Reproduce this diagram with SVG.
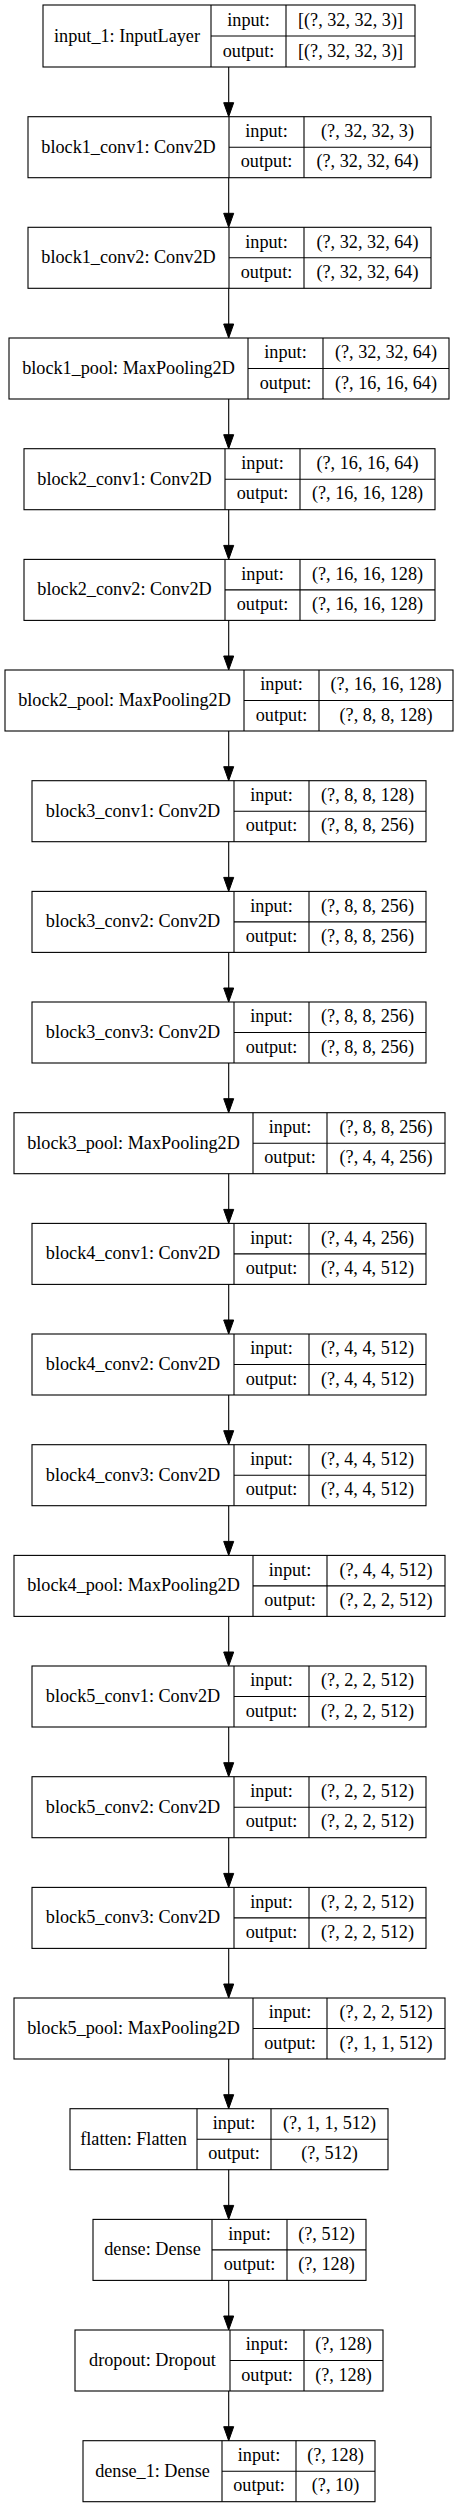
<svg xmlns="http://www.w3.org/2000/svg" width="459" height="2508" viewBox="0 0 459 2508">
<style>
rect{fill:#fff;stroke:#000;stroke-width:1.1}
line.d{stroke:#000;stroke-width:1.1}
text{font-family:"Liberation Serif","Times New Roman",serif;font-size:18.2px;fill:#000;text-anchor:middle}
.e line{stroke:#000;stroke-width:1.1}
.e polygon{fill:#000;stroke:#000;stroke-width:1}
</style>
<rect x="0" y="0" width="459" height="2508" style="fill:#fff;stroke:none"/>
<g id="input_1" transform="translate(0,5)">
<rect x="43" y="0" width="372" height="62"/><line class="d" x1="211" y1="0" x2="211" y2="62"/><line class="d" x1="286" y1="0" x2="286" y2="62"/><line class="d" x1="211" y1="31" x2="415" y2="31"/>
<text x="127" y="36.5">input_1: InputLayer</text><text x="248.5" y="20.5">input:</text><text x="350.5" y="20.5">[(?, 32, 32, 3)]</text><text x="248.5" y="51.5">output:</text><text x="350.5" y="51.5">[(?, 32, 32, 3)]</text>
</g>
<g id="block1_conv1" transform="translate(0,116.7)">
<rect x="28" y="0" width="403" height="61"/><line class="d" x1="229" y1="0" x2="229" y2="61"/><line class="d" x1="304" y1="0" x2="304" y2="61"/><line class="d" x1="229" y1="30.5" x2="431" y2="30.5"/>
<text x="128.5" y="36">block1_conv1: Conv2D</text><text x="266.5" y="20.3">input:</text><text x="367.5" y="20.3">(?, 32, 32, 3)</text><text x="266.5" y="50.8">output:</text><text x="367.5" y="50.8">(?, 32, 32, 64)</text>
</g>
<g id="block1_conv2" transform="translate(0,227.3)">
<rect x="28" y="0" width="403" height="61"/><line class="d" x1="229" y1="0" x2="229" y2="61"/><line class="d" x1="304" y1="0" x2="304" y2="61"/><line class="d" x1="229" y1="30.5" x2="431" y2="30.5"/>
<text x="128.5" y="36">block1_conv2: Conv2D</text><text x="266.5" y="20.3">input:</text><text x="367.5" y="20.3">(?, 32, 32, 64)</text><text x="266.5" y="50.8">output:</text><text x="367.5" y="50.8">(?, 32, 32, 64)</text>
</g>
<g id="block1_pool" transform="translate(0,338)">
<rect x="9" y="0" width="440" height="61"/><line class="d" x1="248" y1="0" x2="248" y2="61"/><line class="d" x1="323" y1="0" x2="323" y2="61"/><line class="d" x1="248" y1="30.5" x2="449" y2="30.5"/>
<text x="128.5" y="36">block1_pool: MaxPooling2D</text><text x="285.5" y="20.3">input:</text><text x="386" y="20.3">(?, 32, 32, 64)</text><text x="285.5" y="50.8">output:</text><text x="386" y="50.8">(?, 16, 16, 64)</text>
</g>
<g id="block2_conv1" transform="translate(0,448.7)">
<rect x="24" y="0" width="411" height="61"/><line class="d" x1="225" y1="0" x2="225" y2="61"/><line class="d" x1="300" y1="0" x2="300" y2="61"/><line class="d" x1="225" y1="30.5" x2="435" y2="30.5"/>
<text x="124.5" y="36">block2_conv1: Conv2D</text><text x="262.5" y="20.3">input:</text><text x="367.5" y="20.3">(?, 16, 16, 64)</text><text x="262.5" y="50.8">output:</text><text x="367.5" y="50.8">(?, 16, 16, 128)</text>
</g>
<g id="block2_conv2" transform="translate(0,559.4)">
<rect x="24" y="0" width="411" height="61"/><line class="d" x1="225" y1="0" x2="225" y2="61"/><line class="d" x1="300" y1="0" x2="300" y2="61"/><line class="d" x1="225" y1="30.5" x2="435" y2="30.5"/>
<text x="124.5" y="36">block2_conv2: Conv2D</text><text x="262.5" y="20.3">input:</text><text x="367.5" y="20.3">(?, 16, 16, 128)</text><text x="262.5" y="50.8">output:</text><text x="367.5" y="50.8">(?, 16, 16, 128)</text>
</g>
<g id="block2_pool" transform="translate(0,670)">
<rect x="5" y="0" width="448" height="61"/><line class="d" x1="244" y1="0" x2="244" y2="61"/><line class="d" x1="319" y1="0" x2="319" y2="61"/><line class="d" x1="244" y1="30.5" x2="453" y2="30.5"/>
<text x="124.5" y="36">block2_pool: MaxPooling2D</text><text x="281.5" y="20.3">input:</text><text x="386" y="20.3">(?, 16, 16, 128)</text><text x="281.5" y="50.8">output:</text><text x="386" y="50.8">(?, 8, 8, 128)</text>
</g>
<g id="block3_conv1" transform="translate(0,780.7)">
<rect x="32" y="0" width="394" height="61"/><line class="d" x1="234" y1="0" x2="234" y2="61"/><line class="d" x1="309" y1="0" x2="309" y2="61"/><line class="d" x1="234" y1="30.5" x2="426" y2="30.5"/>
<text x="133" y="36">block3_conv1: Conv2D</text><text x="271.5" y="20.3">input:</text><text x="367.5" y="20.3">(?, 8, 8, 128)</text><text x="271.5" y="50.8">output:</text><text x="367.5" y="50.8">(?, 8, 8, 256)</text>
</g>
<g id="block3_conv2" transform="translate(0,891.4)">
<rect x="32" y="0" width="394" height="61"/><line class="d" x1="234" y1="0" x2="234" y2="61"/><line class="d" x1="309" y1="0" x2="309" y2="61"/><line class="d" x1="234" y1="30.5" x2="426" y2="30.5"/>
<text x="133" y="36">block3_conv2: Conv2D</text><text x="271.5" y="20.3">input:</text><text x="367.5" y="20.3">(?, 8, 8, 256)</text><text x="271.5" y="50.8">output:</text><text x="367.5" y="50.8">(?, 8, 8, 256)</text>
</g>
<g id="block3_conv3" transform="translate(0,1002)">
<rect x="32" y="0" width="394" height="61"/><line class="d" x1="234" y1="0" x2="234" y2="61"/><line class="d" x1="309" y1="0" x2="309" y2="61"/><line class="d" x1="234" y1="30.5" x2="426" y2="30.5"/>
<text x="133" y="36">block3_conv3: Conv2D</text><text x="271.5" y="20.3">input:</text><text x="367.5" y="20.3">(?, 8, 8, 256)</text><text x="271.5" y="50.8">output:</text><text x="367.5" y="50.8">(?, 8, 8, 256)</text>
</g>
<g id="block3_pool" transform="translate(0,1112.7)">
<rect x="14" y="0" width="431" height="61"/><line class="d" x1="253" y1="0" x2="253" y2="61"/><line class="d" x1="327" y1="0" x2="327" y2="61"/><line class="d" x1="253" y1="30.5" x2="445" y2="30.5"/>
<text x="133.5" y="36">block3_pool: MaxPooling2D</text><text x="290" y="20.3">input:</text><text x="386" y="20.3">(?, 8, 8, 256)</text><text x="290" y="50.8">output:</text><text x="386" y="50.8">(?, 4, 4, 256)</text>
</g>
<g id="block4_conv1" transform="translate(0,1223.4)">
<rect x="32" y="0" width="394" height="61"/><line class="d" x1="234" y1="0" x2="234" y2="61"/><line class="d" x1="309" y1="0" x2="309" y2="61"/><line class="d" x1="234" y1="30.5" x2="426" y2="30.5"/>
<text x="133" y="36">block4_conv1: Conv2D</text><text x="271.5" y="20.3">input:</text><text x="367.5" y="20.3">(?, 4, 4, 256)</text><text x="271.5" y="50.8">output:</text><text x="367.5" y="50.8">(?, 4, 4, 512)</text>
</g>
<g id="block4_conv2" transform="translate(0,1334)">
<rect x="32" y="0" width="394" height="61"/><line class="d" x1="234" y1="0" x2="234" y2="61"/><line class="d" x1="309" y1="0" x2="309" y2="61"/><line class="d" x1="234" y1="30.5" x2="426" y2="30.5"/>
<text x="133" y="36">block4_conv2: Conv2D</text><text x="271.5" y="20.3">input:</text><text x="367.5" y="20.3">(?, 4, 4, 512)</text><text x="271.5" y="50.8">output:</text><text x="367.5" y="50.8">(?, 4, 4, 512)</text>
</g>
<g id="block4_conv3" transform="translate(0,1444.7)">
<rect x="32" y="0" width="394" height="61"/><line class="d" x1="234" y1="0" x2="234" y2="61"/><line class="d" x1="309" y1="0" x2="309" y2="61"/><line class="d" x1="234" y1="30.5" x2="426" y2="30.5"/>
<text x="133" y="36">block4_conv3: Conv2D</text><text x="271.5" y="20.3">input:</text><text x="367.5" y="20.3">(?, 4, 4, 512)</text><text x="271.5" y="50.8">output:</text><text x="367.5" y="50.8">(?, 4, 4, 512)</text>
</g>
<g id="block4_pool" transform="translate(0,1555.4)">
<rect x="14" y="0" width="431" height="61"/><line class="d" x1="253" y1="0" x2="253" y2="61"/><line class="d" x1="327" y1="0" x2="327" y2="61"/><line class="d" x1="253" y1="30.5" x2="445" y2="30.5"/>
<text x="133.5" y="36">block4_pool: MaxPooling2D</text><text x="290" y="20.3">input:</text><text x="386" y="20.3">(?, 4, 4, 512)</text><text x="290" y="50.8">output:</text><text x="386" y="50.8">(?, 2, 2, 512)</text>
</g>
<g id="block5_conv1" transform="translate(0,1666)">
<rect x="32" y="0" width="394" height="61"/><line class="d" x1="234" y1="0" x2="234" y2="61"/><line class="d" x1="309" y1="0" x2="309" y2="61"/><line class="d" x1="234" y1="30.5" x2="426" y2="30.5"/>
<text x="133" y="36">block5_conv1: Conv2D</text><text x="271.5" y="20.3">input:</text><text x="367.5" y="20.3">(?, 2, 2, 512)</text><text x="271.5" y="50.8">output:</text><text x="367.5" y="50.8">(?, 2, 2, 512)</text>
</g>
<g id="block5_conv2" transform="translate(0,1776.7)">
<rect x="32" y="0" width="394" height="61"/><line class="d" x1="234" y1="0" x2="234" y2="61"/><line class="d" x1="309" y1="0" x2="309" y2="61"/><line class="d" x1="234" y1="30.5" x2="426" y2="30.5"/>
<text x="133" y="36">block5_conv2: Conv2D</text><text x="271.5" y="20.3">input:</text><text x="367.5" y="20.3">(?, 2, 2, 512)</text><text x="271.5" y="50.8">output:</text><text x="367.5" y="50.8">(?, 2, 2, 512)</text>
</g>
<g id="block5_conv3" transform="translate(0,1887.4)">
<rect x="32" y="0" width="394" height="61"/><line class="d" x1="234" y1="0" x2="234" y2="61"/><line class="d" x1="309" y1="0" x2="309" y2="61"/><line class="d" x1="234" y1="30.5" x2="426" y2="30.5"/>
<text x="133" y="36">block5_conv3: Conv2D</text><text x="271.5" y="20.3">input:</text><text x="367.5" y="20.3">(?, 2, 2, 512)</text><text x="271.5" y="50.8">output:</text><text x="367.5" y="50.8">(?, 2, 2, 512)</text>
</g>
<g id="block5_pool" transform="translate(0,1998)">
<rect x="14" y="0" width="431" height="61"/><line class="d" x1="253" y1="0" x2="253" y2="61"/><line class="d" x1="327" y1="0" x2="327" y2="61"/><line class="d" x1="253" y1="30.5" x2="445" y2="30.5"/>
<text x="133.5" y="36">block5_pool: MaxPooling2D</text><text x="290" y="20.3">input:</text><text x="386" y="20.3">(?, 2, 2, 512)</text><text x="290" y="50.8">output:</text><text x="386" y="50.8">(?, 1, 1, 512)</text>
</g>
<g id="flatten" transform="translate(0,2108.7)">
<rect x="70" y="0" width="318" height="61"/><line class="d" x1="197" y1="0" x2="197" y2="61"/><line class="d" x1="271" y1="0" x2="271" y2="61"/><line class="d" x1="197" y1="30.5" x2="388" y2="30.5"/>
<text x="133.5" y="36">flatten: Flatten</text><text x="234" y="20.3">input:</text><text x="329.5" y="20.3">(?, 1, 1, 512)</text><text x="234" y="50.8">output:</text><text x="329.5" y="50.8">(?, 512)</text>
</g>
<g id="dense" transform="translate(0,2219.4)">
<rect x="93" y="0" width="273" height="61"/><line class="d" x1="212" y1="0" x2="212" y2="61"/><line class="d" x1="287" y1="0" x2="287" y2="61"/><line class="d" x1="212" y1="30.5" x2="366" y2="30.5"/>
<text x="152.5" y="36">dense: Dense</text><text x="249.5" y="20.3">input:</text><text x="326.5" y="20.3">(?, 512)</text><text x="249.5" y="50.8">output:</text><text x="326.5" y="50.8">(?, 128)</text>
</g>
<g id="dropout" transform="translate(0,2330)">
<rect x="75" y="0" width="308" height="61"/><line class="d" x1="230" y1="0" x2="230" y2="61"/><line class="d" x1="304" y1="0" x2="304" y2="61"/><line class="d" x1="230" y1="30.5" x2="383" y2="30.5"/>
<text x="152.5" y="36">dropout: Dropout</text><text x="267" y="20.3">input:</text><text x="343.5" y="20.3">(?, 128)</text><text x="267" y="50.8">output:</text><text x="343.5" y="50.8">(?, 128)</text>
</g>
<g id="dense_1" transform="translate(0,2440.7)">
<rect x="83" y="0" width="292" height="61"/><line class="d" x1="222" y1="0" x2="222" y2="61"/><line class="d" x1="296" y1="0" x2="296" y2="61"/><line class="d" x1="222" y1="30.5" x2="375" y2="30.5"/>
<text x="152.5" y="36">dense_1: Dense</text><text x="259" y="20.3">input:</text><text x="335.5" y="20.3">(?, 128)</text><text x="259" y="50.8">output:</text><text x="335.5" y="50.8">(?, 10)</text>
</g>
<g id="edges" class="e">
<line x1="228.7" y1="67" x2="228.7" y2="102.7"/><polygon points="223.7,102.7 233.7,102.7 228.7,116.7"/>
<line x1="228.7" y1="177.7" x2="228.7" y2="213.3"/><polygon points="223.7,213.3 233.7,213.3 228.7,227.3"/>
<line x1="228.7" y1="288.3" x2="228.7" y2="324"/><polygon points="223.7,324 233.7,324 228.7,338"/>
<line x1="228.7" y1="399" x2="228.7" y2="434.7"/><polygon points="223.7,434.7 233.7,434.7 228.7,448.7"/>
<line x1="228.7" y1="509.7" x2="228.7" y2="545.4"/><polygon points="223.7,545.4 233.7,545.4 228.7,559.4"/>
<line x1="228.7" y1="620.4" x2="228.7" y2="656"/><polygon points="223.7,656 233.7,656 228.7,670"/>
<line x1="228.7" y1="731" x2="228.7" y2="766.7"/><polygon points="223.7,766.7 233.7,766.7 228.7,780.7"/>
<line x1="228.7" y1="841.7" x2="228.7" y2="877.4"/><polygon points="223.7,877.4 233.7,877.4 228.7,891.4"/>
<line x1="228.7" y1="952.4" x2="228.7" y2="988"/><polygon points="223.7,988 233.7,988 228.7,1002"/>
<line x1="228.7" y1="1063" x2="228.7" y2="1098.7"/><polygon points="223.7,1098.7 233.7,1098.7 228.7,1112.7"/>
<line x1="228.7" y1="1173.7" x2="228.7" y2="1209.4"/><polygon points="223.7,1209.4 233.7,1209.4 228.7,1223.4"/>
<line x1="228.7" y1="1284.4" x2="228.7" y2="1320"/><polygon points="223.7,1320 233.7,1320 228.7,1334"/>
<line x1="228.7" y1="1395" x2="228.7" y2="1430.7"/><polygon points="223.7,1430.7 233.7,1430.7 228.7,1444.7"/>
<line x1="228.7" y1="1505.7" x2="228.7" y2="1541.4"/><polygon points="223.7,1541.4 233.7,1541.4 228.7,1555.4"/>
<line x1="228.7" y1="1616.4" x2="228.7" y2="1652"/><polygon points="223.7,1652 233.7,1652 228.7,1666"/>
<line x1="228.7" y1="1727" x2="228.7" y2="1762.7"/><polygon points="223.7,1762.7 233.7,1762.7 228.7,1776.7"/>
<line x1="228.7" y1="1837.7" x2="228.7" y2="1873.4"/><polygon points="223.7,1873.4 233.7,1873.4 228.7,1887.4"/>
<line x1="228.7" y1="1948.4" x2="228.7" y2="1984"/><polygon points="223.7,1984 233.7,1984 228.7,1998"/>
<line x1="228.7" y1="2059" x2="228.7" y2="2094.7"/><polygon points="223.7,2094.7 233.7,2094.7 228.7,2108.7"/>
<line x1="228.7" y1="2169.7" x2="228.7" y2="2205.4"/><polygon points="223.7,2205.4 233.7,2205.4 228.7,2219.4"/>
<line x1="228.7" y1="2280.4" x2="228.7" y2="2316"/><polygon points="223.7,2316 233.7,2316 228.7,2330"/>
<line x1="228.7" y1="2391" x2="228.7" y2="2426.7"/><polygon points="223.7,2426.7 233.7,2426.7 228.7,2440.7"/>
</g>
</svg>
